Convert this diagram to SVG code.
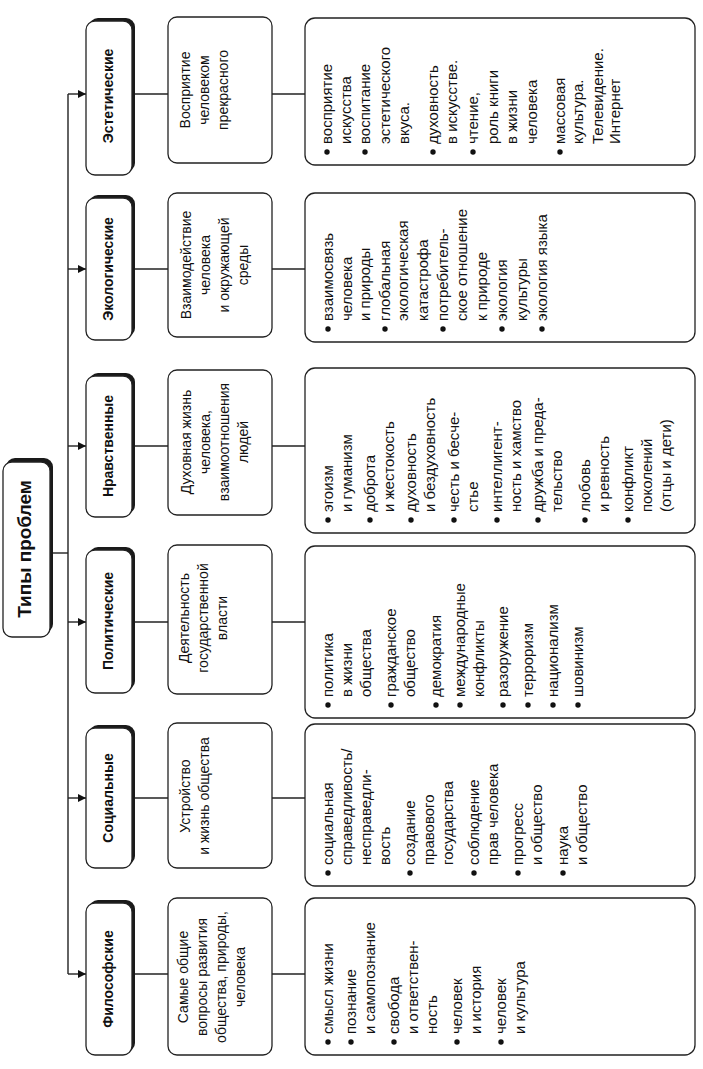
<svg xmlns="http://www.w3.org/2000/svg" width="703" height="1069" viewBox="0 0 703 1069">
<defs>
<marker id="arr" viewBox="0 0 10 10" refX="10" refY="5" markerWidth="9" markerHeight="8" markerUnits="userSpaceOnUse" orient="auto">
<path d="M0,0 L10,5 L0,10 z" fill="#111"/>
</marker>
</defs>
<style>
.bg{fill:#fff}
.box{fill:#fff;stroke:#222;stroke-width:1.3}
.shadow{fill:#1a1a1a}
.ln{stroke:#222;stroke-width:1.4;fill:none}
.cat{font-family:"Liberation Sans",Arial,sans-serif;font-weight:bold;font-size:14px;fill:#111;text-anchor:middle}
.title{font-family:"Liberation Sans",Arial,sans-serif;font-weight:bold;font-size:19px;fill:#111;text-anchor:middle}
.desc{font-family:"Liberation Sans",Arial,sans-serif;font-size:14px;fill:#111;text-anchor:middle}
.det{font-family:"Liberation Sans",Arial,sans-serif;font-size:15px;fill:#111}
.dot{fill:#111}
</style>
<rect class="bg" x="0" y="0" width="703" height="1069"/>

<g id="connectors">
<line class="ln" x1="68" y1="94" x2="68" y2="974"/>
<line class="ln" x1="50" y1="553" x2="68" y2="553"/>
<line class="ln" x1="68" y1="94" x2="86" y2="94" marker-end="url(#arr)"/>
<line class="ln" x1="68" y1="269" x2="86" y2="269" marker-end="url(#arr)"/>
<line class="ln" x1="68" y1="446" x2="86" y2="446" marker-end="url(#arr)"/>
<line class="ln" x1="68" y1="622" x2="86" y2="622" marker-end="url(#arr)"/>
<line class="ln" x1="68" y1="798" x2="86" y2="798" marker-end="url(#arr)"/>
<line class="ln" x1="68" y1="974" x2="86" y2="974" marker-end="url(#arr)"/>
<line class="ln" x1="134" y1="94" x2="168" y2="94"/>
<line class="ln" x1="134" y1="269" x2="168" y2="269"/>
<line class="ln" x1="134" y1="446" x2="168" y2="446"/>
<line class="ln" x1="134" y1="622" x2="168" y2="622"/>
<line class="ln" x1="134" y1="798" x2="168" y2="798"/>
<line class="ln" x1="134" y1="974" x2="168" y2="974"/>
<line class="ln" x1="272" y1="94" x2="305" y2="94"/>
<line class="ln" x1="272" y1="269" x2="305" y2="269"/>
<line class="ln" x1="272" y1="446" x2="305" y2="446"/>
<line class="ln" x1="272" y1="622" x2="305" y2="622"/>
<line class="ln" x1="272" y1="798" x2="305" y2="798"/>
<line class="ln" x1="272" y1="974" x2="305" y2="974"/>
</g>

<g id="title">
<rect class="shadow" x="6" y="458" width="47" height="175" rx="9"/>
<rect class="box" x="3" y="462" width="47" height="175" rx="9"/>
<text class="title" transform="translate(31,549) rotate(-90)">Типы проблем</text>
</g>

<g id="cat-est">
<rect class="shadow" x="89" y="18" width="46" height="154" rx="9"/>
<rect class="box" x="86" y="21" width="46" height="154" rx="9"/>
<text class="cat" transform="translate(113,96) rotate(-90)">Эстетические</text>
</g>
<g id="cat-eco">
<rect class="shadow" x="89" y="195" width="46" height="142" rx="9"/>
<rect class="box" x="86" y="198" width="46" height="142" rx="9"/>
<text class="cat" transform="translate(113,269) rotate(-90)">Экологические</text>
</g>
<g id="cat-nrav">
<rect class="shadow" x="89" y="373" width="46" height="141" rx="9"/>
<rect class="box" x="86" y="376" width="46" height="141" rx="9"/>
<text class="cat" transform="translate(113,446) rotate(-90)">Нравственные</text>
</g>
<g id="cat-pol">
<rect class="shadow" x="89" y="547" width="46" height="143" rx="9"/>
<rect class="box" x="86" y="550" width="46" height="143" rx="9"/>
<text class="cat" transform="translate(113,621) rotate(-90)">Политические</text>
</g>
<g id="cat-soc">
<rect class="shadow" x="89" y="725" width="46" height="140" rx="9"/>
<rect class="box" x="86" y="728" width="46" height="140" rx="9"/>
<text class="cat" transform="translate(113,798) rotate(-90)">Социальные</text>
</g>
<g id="cat-fil">
<rect class="shadow" x="89" y="900" width="46" height="152" rx="9"/>
<rect class="box" x="86" y="903" width="46" height="152" rx="9"/>
<text class="cat" transform="translate(113,979) rotate(-90)">Философские</text>
</g>

<g id="desc-est">
<rect class="box" x="168" y="17" width="104" height="146" rx="9"/>
<text class="desc" transform="translate(168,90) rotate(-90)"><tspan x="0" y="22">Восприятие</tspan><tspan x="0" y="41">человеком</tspan><tspan x="0" y="60">прекрасного</tspan></text>
</g>
<g id="desc-eco">
<rect class="box" x="168" y="193" width="104" height="144" rx="9"/>
<text class="desc" transform="translate(168,265) rotate(-90)"><tspan x="0" y="23">Взаимодействие</tspan><tspan x="0" y="42">человека</tspan><tspan x="0" y="61">и окружающей</tspan><tspan x="0" y="80">среды</tspan></text>
</g>
<g id="desc-nrav">
<rect class="box" x="168" y="370" width="104" height="145" rx="9"/>
<text class="desc" transform="translate(168,442) rotate(-90)"><tspan x="0" y="23">Духовная жизнь</tspan><tspan x="0" y="42">человека,</tspan><tspan x="0" y="61">взаимоотношения</tspan><tspan x="0" y="80">людей</tspan></text>
</g>
<g id="desc-pol">
<rect class="box" x="168" y="545" width="104" height="149" rx="9"/>
<text class="desc" transform="translate(168,618) rotate(-90)"><tspan x="0" y="21">Деятельность</tspan><tspan x="0" y="40">государственной</tspan><tspan x="0" y="59">власти</tspan></text>
</g>
<g id="desc-soc">
<rect class="box" x="168" y="723" width="104" height="145" rx="9"/>
<text class="desc" transform="translate(168,796) rotate(-90)"><tspan x="0" y="22">Устройство</tspan><tspan x="0" y="41">и жизнь общества</tspan></text>
</g>
<g id="desc-fil">
<rect class="box" x="168" y="898" width="104" height="157" rx="9"/>
<text class="desc" transform="translate(168,977) rotate(-90)"><tspan x="0" y="20">Самые общие</tspan><tspan x="0" y="39">вопросы развития</tspan><tspan x="0" y="58">общества, природы,</tspan><tspan x="0" y="77">человека</tspan></text>
</g>

<g id="det-est">
<rect class="box" x="305" y="18" width="390" height="147" rx="10"/>
<g transform="translate(305,165) rotate(-90)">
<circle class="dot" cx="13" cy="22" r="2.7"/><circle class="dot" cx="13" cy="60" r="2.7"/><circle class="dot" cx="13" cy="128" r="2.7"/><circle class="dot" cx="13" cy="168" r="2.7"/><circle class="dot" cx="13" cy="255" r="2.7"/>
<text class="det"><tspan x="21" y="27">восприятие</tspan><tspan x="21" y="46">искусства</tspan><tspan x="21" y="65">воспитание</tspan><tspan x="21" y="85">эстетического</tspan><tspan x="21" y="104">вкуса.</tspan><tspan x="21" y="133">духовность</tspan><tspan x="21" y="152">в искусстве.</tspan><tspan x="21" y="173">чтение,</tspan><tspan x="21" y="193">роль книги</tspan><tspan x="21" y="212">в жизни</tspan><tspan x="21" y="232">человека</tspan><tspan x="21" y="260">массовая</tspan><tspan x="21" y="278">культура.</tspan><tspan x="21" y="298">Телевидение.</tspan><tspan x="21" y="315">Интернет</tspan></text>
</g>
</g>

<g id="det-eco">
<rect class="box" x="305" y="193" width="390" height="149" rx="10"/>
<g transform="translate(305,342) rotate(-90)">
<circle class="dot" cx="13" cy="23" r="2.7"/><circle class="dot" cx="13" cy="80" r="2.7"/><circle class="dot" cx="13" cy="138" r="2.7"/><circle class="dot" cx="13" cy="197" r="2.7"/><circle class="dot" cx="13" cy="237" r="2.7"/>
<text class="det"><tspan x="21" y="28">взаимосвязь</tspan><tspan x="21" y="47">человека</tspan><tspan x="21" y="65">и природы</tspan><tspan x="21" y="85">глобальная</tspan><tspan x="21" y="103">экологическая</tspan><tspan x="21" y="123">катастрофа</tspan><tspan x="21" y="143">потребитель-</tspan><tspan x="21" y="162">ское отношение</tspan><tspan x="21" y="182">к природе</tspan><tspan x="21" y="202">экология</tspan><tspan x="21" y="222">культуры</tspan><tspan x="21" y="242">экология языка</tspan></text>
</g>
</g>

<g id="det-nrav">
<rect class="box" x="305" y="368" width="390" height="165" rx="10"/>
<g transform="translate(305,533) rotate(-90)">
<circle class="dot" cx="13" cy="23" r="2.7"/><circle class="dot" cx="13" cy="65" r="2.7"/><circle class="dot" cx="13" cy="106" r="2.7"/><circle class="dot" cx="13" cy="149" r="2.7"/><circle class="dot" cx="13" cy="192" r="2.7"/><circle class="dot" cx="13" cy="233" r="2.7"/><circle class="dot" cx="13" cy="280" r="2.7"/><circle class="dot" cx="13" cy="323" r="2.7"/>
<text class="det"><tspan x="21" y="28">эгоизм</tspan><tspan x="21" y="47">и гуманизм</tspan><tspan x="21" y="70">доброта</tspan><tspan x="21" y="89">и жестокость</tspan><tspan x="21" y="111">духовность</tspan><tspan x="21" y="130">и бездуховность</tspan><tspan x="21" y="154">честь и бесче-</tspan><tspan x="21" y="173">стье</tspan><tspan x="21" y="197">интеллигент-</tspan><tspan x="21" y="216">ность и хамство</tspan><tspan x="21" y="238">дружба и преда-</tspan><tspan x="21" y="257">тельство</tspan><tspan x="21" y="285">любовь</tspan><tspan x="21" y="304">и ревность</tspan><tspan x="21" y="328">конфликт</tspan><tspan x="21" y="347">поколений</tspan><tspan x="21" y="366">(отцы и дети)</tspan></text>
</g>
</g>

<g id="det-pol">
<rect class="box" x="305" y="546" width="390" height="172" rx="10"/>
<g transform="translate(305,718) rotate(-90)">
<circle class="dot" cx="13" cy="23" r="2.7"/><circle class="dot" cx="13" cy="86" r="2.7"/><circle class="dot" cx="13" cy="131" r="2.7"/><circle class="dot" cx="13" cy="155" r="2.7"/><circle class="dot" cx="13" cy="198" r="2.7"/><circle class="dot" cx="13" cy="223" r="2.7"/><circle class="dot" cx="13" cy="248" r="2.7"/><circle class="dot" cx="13" cy="273" r="2.7"/>
<text class="det"><tspan x="21" y="28">политика</tspan><tspan x="21" y="47">в жизни</tspan><tspan x="21" y="66">общества</tspan><tspan x="21" y="91">гражданское</tspan><tspan x="21" y="110">общество</tspan><tspan x="21" y="136">демократия</tspan><tspan x="21" y="160">международные</tspan><tspan x="21" y="179">конфликты</tspan><tspan x="21" y="203">разоружение</tspan><tspan x="21" y="228">терроризм</tspan><tspan x="21" y="253">национализм</tspan><tspan x="21" y="278">шовинизм</tspan></text>
</g>
</g>

<g id="det-soc">
<rect class="box" x="305" y="724" width="390" height="162" rx="10"/>
<g transform="translate(305,886) rotate(-90)">
<circle class="dot" cx="13" cy="23" r="2.7"/><circle class="dot" cx="13" cy="105" r="2.7"/><circle class="dot" cx="13" cy="169" r="2.7"/><circle class="dot" cx="13" cy="213" r="2.7"/><circle class="dot" cx="13" cy="258" r="2.7"/>
<text class="det"><tspan x="21" y="28">социальная</tspan><tspan x="21" y="47">справедливость/</tspan><tspan x="21" y="66">несправедли-</tspan><tspan x="21" y="85">вость</tspan><tspan x="21" y="110">создание</tspan><tspan x="21" y="129">правового</tspan><tspan x="21" y="148">государства</tspan><tspan x="21" y="174">соблюдение</tspan><tspan x="21" y="193">прав человека</tspan><tspan x="21" y="218">прогресс</tspan><tspan x="21" y="237">и общество</tspan><tspan x="21" y="263">наука</tspan><tspan x="21" y="282">и общество</tspan></text>
</g>
</g>

<g id="det-fil">
<rect class="box" x="305" y="898" width="390" height="157" rx="10"/>
<g transform="translate(305,1055) rotate(-90)">
<circle class="dot" cx="13" cy="23" r="2.7"/><circle class="dot" cx="13" cy="46" r="2.7"/><circle class="dot" cx="13" cy="89" r="2.7"/><circle class="dot" cx="13" cy="152" r="2.7"/><circle class="dot" cx="13" cy="196" r="2.7"/>
<text class="det"><tspan x="21" y="28">смысл жизни</tspan><tspan x="21" y="51">познание</tspan><tspan x="21" y="70">и самопознание</tspan><tspan x="21" y="94">свобода</tspan><tspan x="21" y="113">и ответствен-</tspan><tspan x="21" y="132">ность</tspan><tspan x="21" y="157">человек</tspan><tspan x="21" y="176">и история</tspan><tspan x="21" y="201">человек</tspan><tspan x="21" y="220">и культура</tspan></text>
</g>
</g>
</svg>
